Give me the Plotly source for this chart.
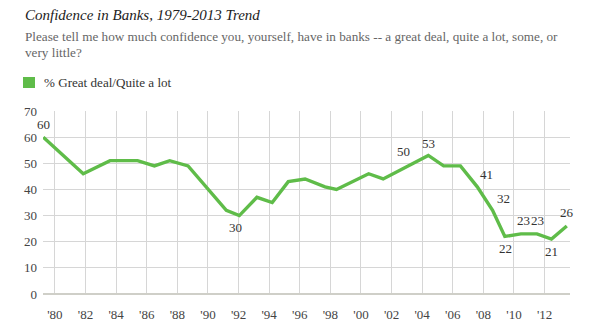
import plotly.graph_objects as go

years = [1979.24, 1981.85, 1983.6, 1985.4, 1986.5, 1987.5, 1988.7, 1991.2, 1992.05,
         1993.2, 1994.2, 1995.25, 1996.35, 1997.65, 1998.4, 2000.5, 2001.45, 2002.4,
         2003.4, 2004.4, 2005.4, 2006.5, 2007.6, 2008.6, 2009.4, 2010.45, 2011.5,
         2012.45, 2013.45]
values = [60, 46, 51, 51, 49, 51, 49, 32, 30,
          37, 35, 43, 44, 41, 40, 46, 44, 47,
          50, 53, 49, 49, 41, 32, 22, 23, 23,
          21, 26]
# label offsets (dx, dy) in pixels for the labelled points
label_offsets = {0: (0, 13), 8: (-4, -12), 18: (-10, 12), 19: (0, 12),
                 22: (9, 12), 23: (11, 12), 24: (1, -12), 25: (3, 13),
                 26: (1, 13), 27: (0, -12), 28: (0, 14)}
tick_years = list(range(1980, 2013, 2))
tick_text = ["'" + str(y)[2:] for y in tick_years]
series_name = "% Great deal/Quite a lot"
title = "Confidence in Banks, 1979-2013 Trend"
sub1 = "Please tell me how much confidence you, yourself, have in banks -- a great deal, quite a lot, some, or"
sub2 = "very little?"

GREEN = "#5fbc49"
FONT = "Liberation Serif, DejaVu Serif, serif"
W, H = 591, 327
L, R, T, B = 43, 21, 111, 33
PW, PH = W - L - R, H - T - B

fig = go.Figure()
fig.add_trace(go.Scatter(
    x=years, y=values, mode="lines",
    line=dict(color=GREEN, width=3.4), showlegend=False, cliponaxis=False,
    hoverinfo="skip"))

for i, (dx, dy) in label_offsets.items():
    fig.add_annotation(x=years[i], y=values[i], xref="x", yref="y", text=str(values[i]),
                       showarrow=False, xshift=dx, yshift=dy,
                       font=dict(family=FONT, size=13, color="#333"))

def px_x(px):
    return (px - L) / PW

def px_y(py):
    return (H - B - py) / PH

fig.add_shape(type="rect", xref="paper", yref="paper",
              x0=px_x(23), x1=px_x(35), y0=px_y(88), y1=px_y(77),
              fillcolor=GREEN, line=dict(width=0))
ann = [
    dict(text="<i>" + title + "</i>", x=px_x(23), y=px_y(15), font=dict(size=15, color="#222")),
    dict(text=sub1, x=px_x(23), y=px_y(36), font=dict(size=13.2, color="#666")),
    dict(text=sub2, x=px_x(23), y=px_y(52), font=dict(size=13.2, color="#666")),
    dict(text=series_name, x=px_x(42), y=px_y(82), font=dict(size=13.1, color="#333")),
]
for a in ann:
    fig.add_annotation(xref="paper", yref="paper", xanchor="left", yanchor="middle",
                       showarrow=False, x=a["x"], y=a["y"], text=a["text"],
                       font=dict(family=FONT, **a["font"]))

fig.update_layout(
    width=W, height=H, margin=dict(l=L, r=R, t=T, b=B, autoexpand=False),
    plot_bgcolor="white", paper_bgcolor="white",
    font=dict(family=FONT, size=13, color="#444"),
    xaxis=dict(range=[1979.22, 2013.66], tickvals=tick_years, ticktext=tick_text,
               showgrid=True, gridcolor="#d6d6d6", gridwidth=1, zeroline=False,
               showline=False, ticks="", ticklabelstandoff=11, automargin=False,
               fixedrange=True),
    yaxis=dict(range=[0, 70], dtick=10, showgrid=True, gridcolor="#d6d6d6", gridwidth=1,
               zeroline=True, zerolinecolor="#cfcfc8", zerolinewidth=2,
               showline=False, ticks="", ticklabelstandoff=5, automargin=False,
               fixedrange=True),
)
fig.write_html("out.html")
